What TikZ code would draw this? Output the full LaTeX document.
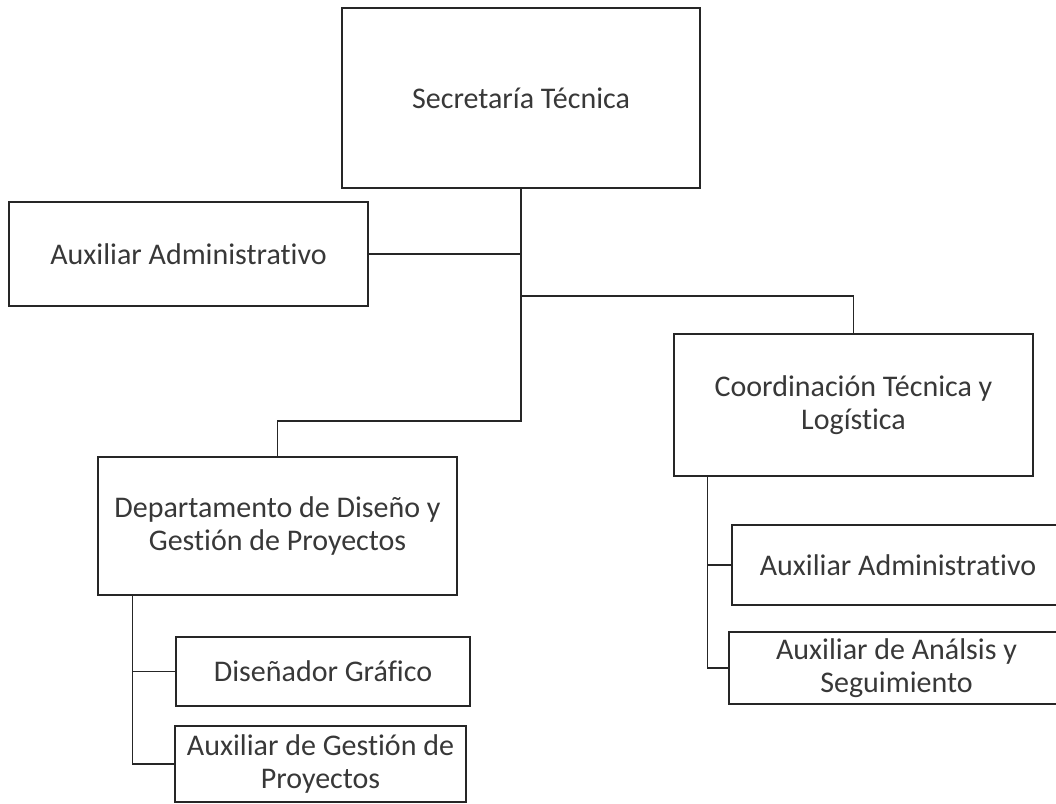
\documentclass[tikz,border=0pt]{standalone}
\usepackage{fontspec}
\setmainfont{Carlito}[Ligatures=NoCommon]
\begin{document}
\begin{tikzpicture}[x=1pt,y=-1pt,
  box/.style={draw=black!85, line width=1.4pt, rectangle, inner sep=0pt, align=center,
    text=black!78, font=\fontsize{30}{33}\selectfont},
  link/.style={draw=black!85, line width=1.4pt}]
\useasboundingbox (0,0) rectangle (1056,803);
\begin{scope}
\clip (0,0) rectangle (1056,803);
\node[box, minimum width=358pt, minimum height=180pt] (sec) at (521,98) {Secretaría Técnica};
\node[box, minimum width=359pt, minimum height=104pt] (aux1) at (188.5,254) {Auxiliar Administrativo};
\node[box, minimum width=359pt, minimum height=142pt] (coord) at (853.5,405) {Coordinación Técnica y\\Logística};
\node[box, minimum width=359pt, minimum height=138pt] (dept) at (277.5,526) {Departamento de Diseño y\\Gestión de Proyectos};
\node[box, minimum width=294pt, minimum height=69pt] (dis) at (323,671.5) {Diseñador Gráfico};
\node[box, minimum width=291pt, minimum height=76pt] (auxg) at (320.5,764) {Auxiliar de Gestión de\\Proyectos};
\node[box, minimum width=332pt, minimum height=80pt] (aux2) at (898,565) {Auxiliar Administrativo};
\node[box, minimum width=335pt, minimum height=72pt] (anal) at (896.5,668) {Auxiliar de Análsis y\\Seguimiento};
\end{scope}
\coordinate (t1) at (521,421);
\coordinate (t2) at (521,296);
\draw[link] (sec.south) -- (t1) -| (dept.north);
\draw[link] (aux1.east) -- (aux1.east -| sec.south);
\draw[link] (t2) -| (coord.north);
\coordinate (d0) at ([xshift=35pt]dept.south west);
\draw[link] (d0) |- (auxg.west);
\draw[link] (d0 |- dis.west) -- (dis.west);
\coordinate (c0) at ([xshift=34pt]coord.south west);
\draw[link] (c0) |- (anal.west);
\draw[link] (c0 |- aux2.west) -- (aux2.west);
\end{tikzpicture}
\end{document}
